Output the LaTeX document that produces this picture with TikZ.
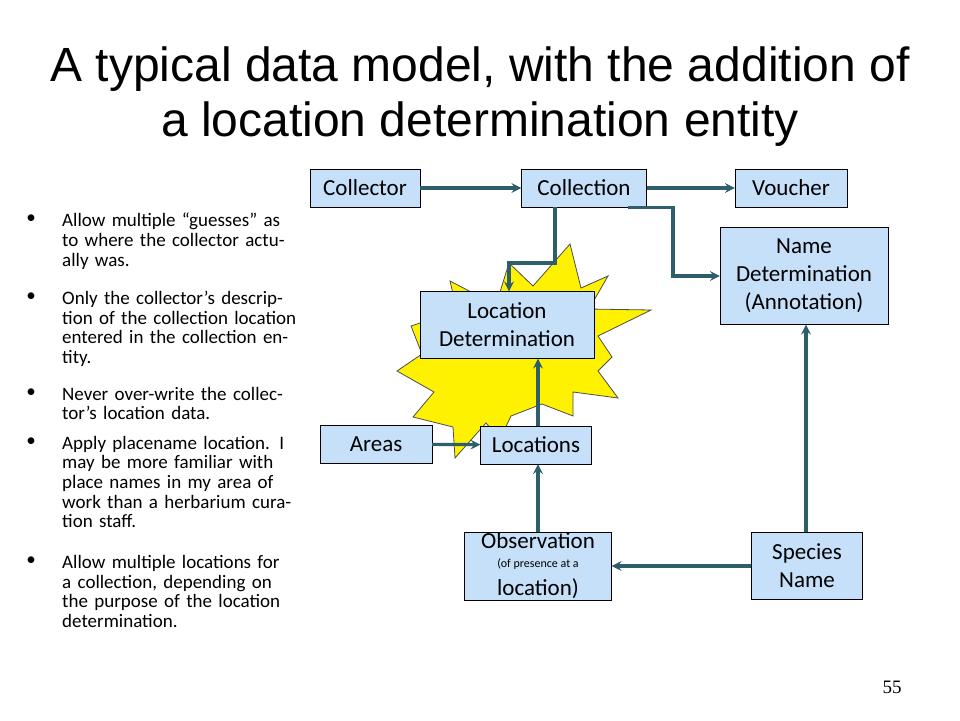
\documentclass[tikz,border=0pt]{standalone}
\usepackage{fontspec}
\setmainfont{Carlito}
\newfontfamily\titlefont{Liberation Sans}
\newfontfamily\numfont{Liberation Serif}
\definecolor{boxfill}{RGB}{198,224,250}
\definecolor{linkcol}{RGB}{46,94,106}
\begin{document}
\begin{tikzpicture}[
  x=1pt, y=-1pt,
  entity/.style={draw, fill=boxfill, minimum height=38pt, inner sep=1pt,
    font=\fontsize{23}{28}\selectfont, align=center},
  link/.style={->, >=stealth, line width=3.2pt, draw=linkcol},
  bullettext/.style={anchor=north west, text width=235pt, align=left, inner sep=0pt,
    font=\fontsize{19}{19.6}\selectfont}
]
  \useasboundingbox (0,0) rectangle (960,720);
  % title
  \node[font=\titlefont\fontsize{48}{55}\selectfont, align=center] (title) at (480,97)
    {A typical data model, with the addition of\\a location determination entity};
  % starburst behind the location determination
  \filldraw[fill=yellow, draw=black!70, line width=0.8pt]
    (570,244) -- (581,288) -- (608,276) -- (589,309) -- (651,310) -- (598,336)
    -- (612,357) -- (598,371) -- (618,398) -- (573,392) -- (573,416) -- (542,404)
    -- (511,416) -- (500,439) -- (486,423) -- (455,458) -- (453,427) -- (413,417)
    -- (434,392) -- (397,371) -- (422,354) -- (411,326) -- (457,311) -- (450,281)
    -- (496,305) -- (509,263) -- (533,286) -- cycle;
  % entities
  \node[entity, minimum width=110pt] (collector) at (365,188) {Collector};
  \node[entity, minimum width=125pt] (collection) at (584,188) {Collection};
  \node[entity, minimum width=112pt] (voucher) at (791,188) {Voucher};
  \node[entity, minimum width=168pt, minimum height=97pt] (namedet) at (804,276)
    {Name\\Determination\\(Annotation)};
  \node[entity, minimum width=174pt, minimum height=67pt] (locdet) at (507,325)
    {Location\\Determination};
  \node[entity, minimum width=112pt] (areas) at (376,444) {Areas};
  \node[entity, minimum width=111pt] (locations) at (536,445) {Locations};
  \node[entity, minimum width=147pt, minimum height=67pt] (observation) at (538,566)
    {Observation\\[-9pt]\fontsize{12}{14}\selectfont (of presence at a\\location)};
  \node[entity, minimum width=111pt, minimum height=67pt] (species) at (807,566)
    {Species\\Name};
  % connectors
  \draw[link] (collection.south -| 555,0) |- (509,263) -- (locdet.north -| 509,0);
  \draw[link] (collection.south -| 628,0) -| (673,276) -- (namedet.west);
  \draw[link] (collector) -- (collection);
  \draw[link] (collection) -- (voucher);
  \draw[link] (areas) -- (locations);
  \draw[link] (locations.north -| 538,0) -- (locdet.south -| 538,0);
  \draw[link] (observation.north -| 538,0) -- (locations.south -| 538,0);
  \draw[link] (species) -- (observation);
  \draw[link] (species.north -| 806,0) -- (namedet.south -| 806,0);
  % bullets
  \foreach \y/\txt in {
    211/{Allow multiple “guesses” as to where the collector actually was.},
    289/{Only the collector’s description of the collection location entered in the collection entity.},
    385/{Never over-write the collector’s location data.},
    434/{Apply placename location. I may be more familiar with place names in my area of work than a herbarium curation staff.},
    553/{Allow multiple locations for a collection, depending on the purpose of the location determination.}} {
    \node[font=\fontsize{19}{19.6}\selectfont, anchor=north] at (31,\y) {•};
    \node[bullettext] at (62,\y+2) {\txt};
  }
  \node[font=\numfont\fontsize{19}{20}\selectfont] (pageno) at (892,687) {55};
\end{tikzpicture}
\end{document}
